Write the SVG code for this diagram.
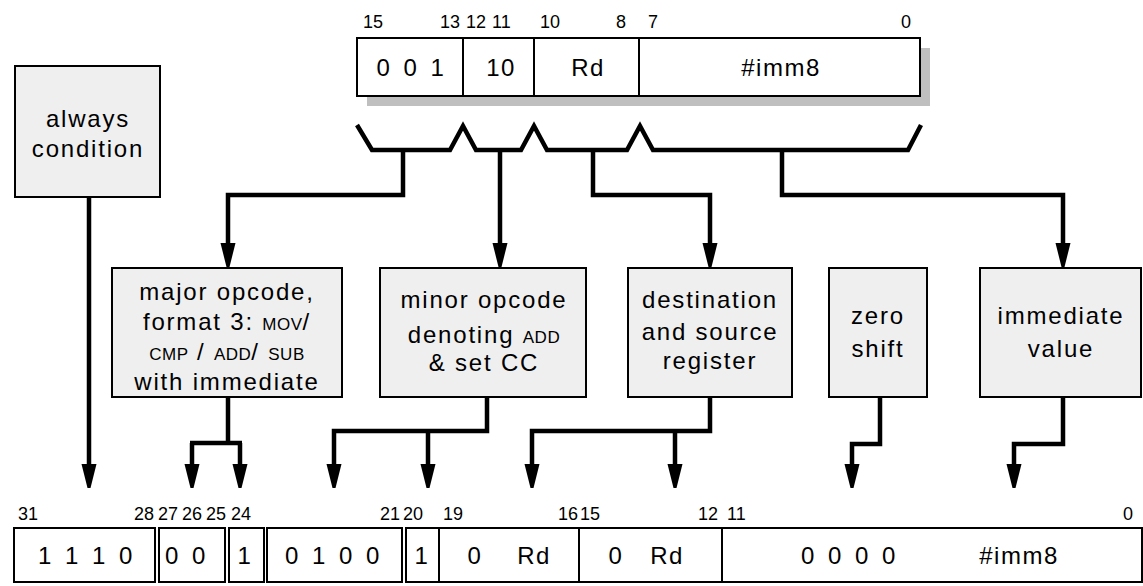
<svg xmlns="http://www.w3.org/2000/svg" width="1143" height="586" viewBox="0 0 1143 586">
<style>
text{font-family:"Liberation Sans",Arial,sans-serif;fill:#000}
.bit{font-size:18px}
.val{font-size:24px;letter-spacing:1.5px;word-spacing:4px;text-anchor:middle}
.lbl{font-size:24px;letter-spacing:1.8px;text-anchor:middle}
.sc{font-size:17px;letter-spacing:0.5px}
.box{fill:#efefef;stroke:#000;stroke-width:2}
.reg{fill:#fff;stroke:#000;stroke-width:2}
.ln{fill:none;stroke:#000;stroke-width:4.5;stroke-linejoin:miter;stroke-linecap:butt}
.thin{fill:none;stroke:#000;stroke-width:2}
.e{text-anchor:end}
</style>
<defs>
<marker id="ah" markerUnits="userSpaceOnUse" markerWidth="30" markerHeight="20" refX="0" refY="0" viewBox="0 -10 30 20" orient="auto" overflow="visible">
<path d="M0,-7.5 L24,-1.5 L24,1.5 L0,7.5 Z" fill="#000"/>
</marker>
</defs>

<g id="top-register">
<rect x="367" y="48" width="563" height="58" fill="#bfbfbf"/>
<rect class="reg" x="357" y="38" width="563" height="58"/>
<line class="thin" x1="463" y1="38" x2="463" y2="96"/>
<line class="thin" x1="534" y1="38" x2="534" y2="96"/>
<line class="thin" x1="639" y1="38" x2="639" y2="96"/>
<text class="bit" x="363" y="28">15</text>
<text class="bit e" x="460" y="28">13</text>
<text class="bit" x="466" y="28">12</text>
<text class="bit" x="492" y="28">11</text>
<text class="bit" x="540" y="28">10</text>
<text class="bit e" x="626" y="28">8</text>
<text class="bit" x="648" y="28">7</text>
<text class="bit e" x="911" y="28">0</text>
<text class="val" x="411" y="76">0 0 1</text>
<text class="val" x="501" y="76">10</text>
<text class="val" x="588" y="76">Rd</text>
<text class="val" x="781" y="76">#imm8</text>
</g>

<g id="always">
<rect class="box" x="15" y="66" width="145" height="131"/>
<text class="lbl" x="88" y="127">always</text>
<text class="lbl" x="88" y="157">condition</text>
</g>

<g id="major">
<rect class="box" x="112" y="268" width="230" height="129"/>
<text class="lbl" x="227" y="300">major opcode,</text>
<text class="lbl" x="227" y="330">format 3: <tspan class="sc">MOV</tspan>/</text>
<text class="lbl" x="227" y="360"><tspan class="sc">CMP</tspan> / <tspan class="sc">ADD</tspan>/ <tspan class="sc">SUB</tspan></text>
<text class="lbl" x="227" y="390">with immediate</text>
</g>

<g id="minor">
<rect class="box" x="380" y="268" width="206" height="129"/>
<text class="lbl" x="484" y="308">minor opcode</text>
<text class="lbl" x="484" y="343">denoting <tspan class="sc">ADD</tspan></text>
<text class="lbl" x="484" y="371">&amp; set  CC</text>
</g>

<g id="dest">
<rect class="box" x="628" y="268" width="164" height="129"/>
<text class="lbl" x="710" y="308">destination</text>
<text class="lbl" x="710" y="340">and source</text>
<text class="lbl" x="710" y="369">register</text>
</g>

<g id="zero">
<rect class="box" x="829" y="268" width="98" height="129"/>
<text class="lbl" x="878" y="324">zero</text>
<text class="lbl" x="878" y="357">shift</text>
</g>

<g id="imm">
<rect class="box" x="980" y="268" width="161" height="129"/>
<text class="lbl" x="1061" y="324">immediate</text>
<text class="lbl" x="1061" y="357">value</text>
</g>

<g id="bottom-register">
<rect class="reg" x="14" y="528" width="141" height="54"/>
<rect class="reg" x="159" y="528" width="66" height="54"/>
<rect class="reg" x="229" y="528" width="35" height="54"/>
<rect class="reg" x="267" y="528" width="135" height="54"/>
<rect class="reg" x="406" y="528" width="33" height="54"/>
<rect class="reg" x="439" y="528" width="703" height="54"/>
<line class="thin" x1="579" y1="528" x2="579" y2="582"/>
<line class="thin" x1="722" y1="528" x2="722" y2="582"/>
<text class="bit" x="18" y="520">31</text>
<text class="bit e" x="154" y="520">28</text>
<text class="bit" x="158" y="520">27</text>
<text class="bit" x="182" y="520">26</text>
<text class="bit" x="206" y="520">25</text>
<text class="bit" x="231" y="520">24</text>
<text class="bit e" x="400" y="520">21</text>
<text class="bit" x="403" y="520">20</text>
<text class="bit" x="443" y="520">19</text>
<text class="bit e" x="578" y="520">16</text>
<text class="bit" x="580" y="520">15</text>
<text class="bit e" x="718" y="520">12</text>
<text class="bit" x="727" y="520">11</text>
<text class="bit e" x="1133" y="520">0</text>
<text class="val" x="86" y="564">1 1 1 0</text>
<text class="val" x="186" y="564">0 0</text>
<text class="val" x="245" y="564">1</text>
<text class="val" x="333" y="564">0 1 0 0</text>
<text class="val" x="422" y="564">1</text>
<text class="val" x="475" y="564">0</text>
<text class="val" x="534" y="564">Rd</text>
<text class="val" x="616" y="564">0</text>
<text class="val" x="667" y="564">Rd</text>
<text class="val" x="849" y="564">0 0 0 0</text>
<text class="val" x="1019" y="564">#imm8</text>
</g>

<g id="connectors">
<path class="ln" d="M357,125 L372,150 L450,150 L463,126 L476,150 L521,150 L534,126 L547,150 L627,150 L640,126 L653,150 L908,150 L921,125"/>
<path class="ln" d="M403,150 V195 H228 V243" marker-end="url(#ah)"/>
<path class="ln" d="M500,150 V243" marker-end="url(#ah)"/>
<path class="ln" d="M593,150 V195 H710 V243" marker-end="url(#ah)"/>
<path class="ln" d="M782,150 V195 H1063 V243" marker-end="url(#ah)"/>
<path class="ln" d="M89,197 V464" marker-end="url(#ah)"/>
<path class="ln" d="M228,397 V443"/>
<path class="ln" d="M192,443 V464" marker-end="url(#ah)"/>
<path class="ln" d="M190,443 H242"/>
<path class="ln" d="M240,443 V464" marker-end="url(#ah)"/>
<path class="ln" d="M487,397 V431 H334 V464" marker-end="url(#ah)"/>
<path class="ln" d="M428,431 V464" marker-end="url(#ah)"/>
<path class="ln" d="M710,397 V431 H532 V464" marker-end="url(#ah)"/>
<path class="ln" d="M675,431 V464" marker-end="url(#ah)"/>
<path class="ln" d="M880,397 V444 H852 V464" marker-end="url(#ah)"/>
<path class="ln" d="M1063,397 V444 H1014 V464" marker-end="url(#ah)"/>
</g>
</svg>
